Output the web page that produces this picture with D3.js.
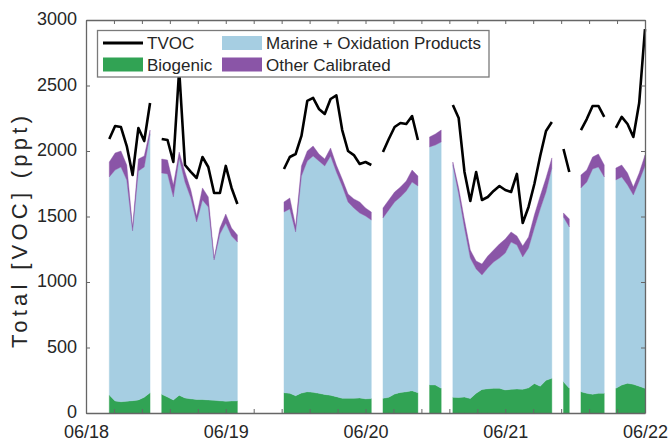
<!DOCTYPE html>
<html>
<head>
<meta charset="utf-8">
<script src="https://cdn.jsdelivr.net/npm/d3@7"></script>
<style>
  body { margin: 0; background: #fff; }
  svg { display: block; font-family: Arial, "Liberation Sans", Helvetica, sans-serif; }
</style>
</head>
<body>
<svg id="chart" width="671" height="442"></svg>
<script>
// Hourly samples starting 06/18 04:00; null = no measurement in that hour.
const firstHour = 4;

const tvoc = [
  2092, 2191, 2183, 2038, 1817, 2176, 2076, 2366, null,
  2092, 2084, 1916, 2620, 1893, 1840, 1794, 1954, 1878, 1679, 1679, 1886, 1718, 1595,
  null, null, null, null, null, null, null,
  1863, 1954, 1977, 2115, 2382, 2405, 2321, 2283, 2397, 2424, 2160, 2000, 1969, 1901, 1916, 1893,
  null,
  1992, 2092, 2183, 2214, 2206, 2267, 2084,
  null, null, null, null, null,
  2351, 2252, 1840, 1618, 1840, 1626, 1649, 1695, 1733, 1702, 1687, 1825, 1450, 1573, 1748, 1962, 2153, 2221,
  null,
  2015, 1840,
  null,
  2160, 2244, 2344, 2344, 2260,
  null,
  2176, 2260, 2206, 2107, 2366, 2930
];

const biogenic = [
  137, 92, 86, 90, 94, 100, 120, 155, null,
  143, 122, 100, 135, 115, 108, 104, 103, 100, 97, 93, 90, 92, 92,
  null, null, null, null, null, null, null,
  155, 150, 132, 152, 162, 158, 150, 142, 135, 125, 112, 112, 112, 115, 108, 110,
  null,
  112, 120, 145, 157, 162, 170, 155,
  null,
  214, 214, 188,
  null,
  120, 118, 122, 110, 150, 180, 185, 188, 188, 176, 181, 183, 181, 192, 225, 205, 250, 265,
  null,
  239, 188,
  null,
  163, 150, 143, 150, 150,
  null,
  188, 214, 227, 219, 205, 188
];

const marine = [
  1665, 1763, 1792, 1689, 1296, 1747, 1758, 1975, null,
  1689, 1703, 1549, 1812, 1648, 1533, 1354, 1523, 1473, 1071, 1273, 1360, 1259, 1213,
  null, null, null, null, null, null, null,
  1379, 1408, 1250, 1657, 1762, 1804, 1774, 1744, 1827, 1715, 1621, 1499, 1453, 1412, 1396, 1363,
  null,
  1377, 1430, 1466, 1492, 1533, 1593, 1578,
  null,
  1817, 1832, 1881,
  null,
  1773, 1554, 1290, 1073, 949, 873, 922, 965, 995, 1045, 1124, 1100, 1010, 1068, 1187, 1352, 1437, 1605,
  null,
  1257, 1232,
  null,
  1555, 1613, 1720, 1728, 1652,
  null,
  1591, 1588, 1514, 1445, 1566, 1698
];

const otherCalibrated = [
  114, 130, 122, 114, 30, 92, 84, 30, null,
  107, 106, 92, 45, 77, 61, 46, 92, 76, 15, 46, 69, 61, 54,
  null, null, null, null, null, null, null,
  77, 83, 46, 77, 76, 76, 53, 53, 61, 53, 53, 61, 69, 84, 61, 61,
  null,
  76, 76, 76, 76, 76, 92, 76,
  null,
  76, 84, 91,
  null,
  23, 46, 61, 61, 61, 84, 91, 91, 107, 107, 77, 68, 84, 84, 100, 100, 107, 77,
  null,
  31, 61,
  null,
  99, 92, 91, 99, 91,
  null,
  91, 91, 91, 61, 61, 83
];

const dayLabels = ["06/18", "06/19", "06/20", "06/21", "06/22"];
const yTicks = [0, 500, 1000, 1500, 2000, 2500, 3000];
const legendNames = ["TVOC", "Marine + Oxidation Products", "Biogenic", "Other Calibrated"];

const colors = {
  tvoc: "#000000",
  biogenic: "#31a354",
  marine: "#a6cee2",
  other: "#8a55a7"
};

const svg = d3.select("#chart");
const W = 671, H = 442;
const margin = { left: 86, right: 26, top: 20, bottom: 29 };

const x = d3.scaleLinear().domain([0, 96]).range([margin.left, W - margin.right]);
const y = d3.scaleLinear().domain([0, 3000]).range([H - margin.bottom, margin.top]);

const rows = tvoc.map((v, i) => ({
  hour: firstHour + i,
  tvoc: v,
  biogenic: biogenic[i],
  marine: marine[i],
  other: otherCalibrated[i]
}));

// Stacked areas: biogenic at the bottom, then marine, then other calibrated
const keys = ["biogenic", "marine", "other"];
const stacked = d3.stack().keys(keys).value((d, k) => d[k] == null ? 0 : d[k])(rows);

const area = d3.area()
  .defined(d => d.data.marine != null)
  .x(d => x(d.data.hour))
  .y0(d => y(d[0]))
  .y1(d => y(d[1]));

svg.append("g").selectAll("path")
  .data(stacked)
  .join("path")
  .attr("d", area)
  .attr("fill", d => colors[d.key])
  .attr("stroke", d => colors[d.key])
  .attr("stroke-width", 0.4);

// TVOC line
const line = d3.line()
  .defined(d => d.tvoc != null)
  .x(d => x(d.hour))
  .y(d => y(d.tvoc));

svg.append("path")
  .datum(rows)
  .attr("d", line)
  .attr("fill", "none")
  .attr("stroke", colors.tvoc)
  .attr("stroke-width", 2.6)
  .attr("stroke-linejoin", "round");

// Axes: box with inward ticks, every 0.2 day on x
const xTickVals = d3.range(0, 21).map(i => i * 4.8);
const fmtX = h => {
  const d = Math.round(h / 24 * 1000) / 1000;
  return Number.isInteger(d) ? dayLabels[d] : "";
};
const axisColor = "#666";
const textColor = "#262626";

const gx = svg.append("g")
  .attr("transform", `translate(0,${y(0)})`)
  .call(d3.axisBottom(x).tickValues(xTickVals).tickFormat(fmtX).tickSize(-4).tickSizeOuter(0).tickPadding(12.2));
const gxTop = svg.append("g")
  .attr("transform", `translate(0,${y(3000)})`)
  .call(d3.axisTop(x).tickValues(xTickVals).tickFormat("").tickSize(-4).tickSizeOuter(0));
const gy = svg.append("g")
  .attr("transform", `translate(${x(0)},0)`)
  .call(d3.axisLeft(y).tickValues(yTicks).tickFormat(d3.format("d")).tickSize(-4).tickSizeOuter(0).tickPadding(9));
const gyRight = svg.append("g")
  .attr("transform", `translate(${x(96)},0)`)
  .call(d3.axisRight(y).tickValues(yTicks).tickFormat("").tickSize(-4).tickSizeOuter(0));

[gx, gxTop, gy, gyRight].forEach(g => {
  g.select(".domain").attr("stroke", axisColor).attr("stroke-width", 1.3);
  g.selectAll(".tick line").attr("stroke", axisColor).attr("stroke-width", 1);
  g.selectAll("text").attr("fill", textColor).attr("font-size", 18)
    .attr("font-family", "Arial, 'Liberation Sans', sans-serif");
});
gy.selectAll(".tick text").attr("dy", "0.26em");

// Y axis title
svg.append("text")
  .attr("transform", `translate(27,${232}) rotate(-90)`)
  .attr("text-anchor", "middle")
  .attr("fill", textColor)
  .attr("font-size", 22)
  .attr("textLength", 232)
  .attr("lengthAdjust", "spacing")
  .text("Total [VOC] (ppt)");

// Legend
const lg = svg.append("g");
lg.append("rect")
  .attr("x", 97.5).attr("y", 30.5).attr("width", 391.5).attr("height", 46.5)
  .attr("fill", "#fff").attr("stroke", "#7a7a7a").attr("stroke-width", 1.3);

const legendItems = [
  { name: legendNames[0], kind: "line", color: colors.tvoc, col: 0, row: 0 },
  { name: legendNames[1], kind: "box", color: colors.marine, col: 1, row: 0 },
  { name: legendNames[2], kind: "box", color: colors.biogenic, col: 0, row: 1 },
  { name: legendNames[3], kind: "box", color: colors.other, col: 1, row: 1 }
];
const colX = [103, 222];
const rowY = [43, 64.5];
legendItems.forEach(it => {
  const x0 = colX[it.col], cy = rowY[it.row];
  if (it.kind === "line") {
    lg.append("line").attr("x1", x0).attr("x2", x0 + 40).attr("y1", cy).attr("y2", cy)
      .attr("stroke", it.color).attr("stroke-width", 3);
  } else {
    lg.append("rect").attr("x", x0).attr("y", cy - 7).attr("width", 40).attr("height", 14)
      .attr("fill", it.color);
  }
  lg.append("text").attr("x", x0 + 44).attr("y", cy).attr("dy", "0.36em")
    .attr("fill", textColor).attr("font-size", 17).text(it.name);
});
</script>
</body>
</html>
